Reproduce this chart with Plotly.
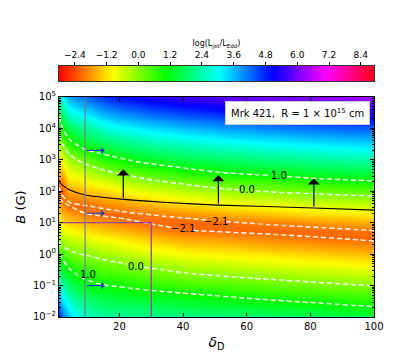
import numpy as np
import plotly.graph_objects as go

# ---------------- data ----------------
# heat map grid: Doppler factor columns, log10(B / G) rows
delta_grid = [1, 2, 4, 7, 10, 15, 20, 30, 40, 55, 70, 85, 100]
logB_grid = [-2, -1.5, -1, -0.5, 0, 0.25, 0.5, 0.75, 1.0, 1.25, 1.5, 1.75,
             2.0, 2.25, 2.5, 3.0, 3.5, 4.0, 4.5, 5.0]

# log(Ljet/LEdd), one column per delta (bottom -> top)
lj_d1 = [4.94, 3.89, 2.84, 1.79, 0.74, 0.20, -0.15, -0.50, -0.85, -1.20, -1.60, -2.05, -2.25, -1.95, -1.65, -0.95, -0.15, 0.75, 1.70, 2.60]
lj_d2 = [4.28, 3.33, 2.38, 1.43, 0.48, 0.00, -0.38, -0.76, -1.14, -1.50, -1.80, -2.15, -2.30, -2.10, -1.75, -0.90, 0.05, 1.00, 2.00, 3.00]
lj_d4 = [3.50, 2.67, 1.85, 1.02, 0.20, -0.20, -0.58, -0.96, -1.34, -1.72, -2.15, -1.95, -1.65, -1.30, -0.95, -0.25, 0.75, 1.75, 2.75, 3.75]
lj_d7 = [2.88, 2.17, 1.46, 0.75, 0.04, -0.33, -0.71, -1.09, -1.46, -1.84, -2.17, -1.95, -1.60, -1.25, -0.90, 0.00, 1.05, 2.05, 3.05, 4.05]
lj_d10 = [2.54, 1.89, 1.24, 0.59, -0.08, -0.46, -0.84, -1.22, -1.60, -2.05, -2.18, -1.85, -1.40, -1.00, -0.60, 0.30, 1.30, 2.30, 3.30, 4.30]
lj_d15 = [2.29, 1.66, 1.04, 0.41, -0.26, -0.64, -1.02, -1.40, -1.77, -2.15, -2.00, -1.70, -1.29, -0.79, -0.29, 0.71, 1.71, 2.71, 3.71, 4.71]
lj_d20 = [2.23, 1.59, 0.95, 0.31, -0.40, -0.78, -1.16, -1.53, -1.89, -2.20, -1.92, -1.53, -1.04, -0.54, -0.04, 0.96, 1.96, 2.96, 3.96, 4.96]
lj_d30 = [2.14, 1.44, 0.74, 0.04, -0.71, -1.09, -1.47, -1.83, -2.20, -2.05, -1.67, -1.19, -0.69, -0.19, 0.31, 1.31, 2.31, 3.31, 4.31, 5.31]
lj_d40 = [2.06, 1.31, 0.56, -0.20, -0.96, -1.34, -1.71, -2.08, -2.20, -1.89, -1.43, -0.94, -0.44, 0.06, 0.56, 1.56, 2.56, 3.56, 4.56, 5.56]
lj_d55 = [1.95, 1.19, 0.43, -0.33, -1.09, -1.47, -1.83, -2.18, -2.12, -1.64, -1.16, -0.66, -0.16, 0.34, 0.84, 1.84, 2.84, 3.84, 4.84, 5.84]
lj_d70 = [1.78, 1.02, 0.26, -0.50, -1.26, -1.63, -2.00, -2.20, -2.00, -1.44, -0.95, -0.45, 0.05, 0.55, 1.05, 2.05, 3.05, 4.05, 5.05, 6.05]
lj_d85 = [1.64, 0.88, 0.12, -0.64, -1.40, -1.77, -2.12, -2.15, -1.80, -1.27, -0.78, -0.28, 0.22, 0.72, 1.22, 2.22, 3.22, 4.22, 5.22, 6.22]
lj_d100 = [1.50, 0.74, -0.02, -0.78, -1.54, -1.89, -2.20, -2.08, -1.62, -1.14, -0.64, -0.14, 0.36, 0.86, 1.36, 2.36, 3.36, 4.36, 5.36, 6.36]

z_min, z_max = -3.0, 8.9
cbar_ticks = [-2.4, -1.2, 0.0, 1.2, 2.4, 3.6, 4.8, 6.0, 7.2, 8.4]

# dashed contour lines (None = gap for inline label)
up10_delta = [1.2, 1.5, 2.5, 4.6, 9.2, 15.4, 25.6, 41.6, 51.9, 67.5, None, 72.7, 81, 100]
up10_logB = [4.38, 4.22, 3.92, 3.62, 3.33, 3.17, 2.94, 2.72, 2.60, 2.50, None, 2.47, 2.41, 2.33]
up00_delta = [1.2, 1.5, 2.5, 4.6, 9.2, 15.4, 25.6, 31.4, 41.6, 51.9, 57.6, None, 62.7, 67.3, 81, 100]
up00_logB = [3.78, 3.67, 3.42, 3.14, 2.87, 2.66, 2.45, 2.34, 2.21, 2.09, 2.05, None, 2.02, 1.98, 1.92, 1.85]
up21_delta = [1.2, 1.6, 4.6, 9.2, 20.6, 33.8, 47.2, None, 53.4, 67, 100]
up21_logB = [2.12, 1.92, 1.63, 1.55, 1.36, 1.21, 1.09, None, 1.04, 0.94, 0.75]
lo21_delta = [1.2, 2.1, 9.2, 20.6, 32.0, 37.0, None, 43.2, 71.8, 100]
lo21_logB = [1.78, 1.67, 1.30, 1.14, 0.92, 0.84, None, 0.75, 0.61, 0.42]
lo00_delta = [1.2, 1.54, 5.1, 9.2, 15.4, 22.6, None, 27.7, 33.8, 40.6, 62.2, 100]
lo00_logB = [0.40, 0.29, 0.08, -0.03, -0.18, -0.32, None, -0.42, -0.50, -0.60, -0.77, -1.01]
lo10_delta = [1.2, 1.54, 4.1, 7.9, 12.8, 15.4, 25.6, 33.8, 62.2, 100]
lo10_logB = [0.00, -0.08, -0.45, -0.74, -0.92, -0.98, -1.11, -1.19, -1.42, -1.67]

label_text = ["1.0", "0.0", "\u22122.1", "\u22122.1", "0.0", "1.0"]
label_delta = [70.1, 60.1, 50.4, 40.1, 25.1, 10.2]
label_logB = [2.51, 2.06, 1.05, 0.82, -0.40, -0.66]

# solid black line and upward arrows
eq_delta = [1.0, 1.5, 4.6, 9.2, 20.6, 33.8, 51.0, 81.0, 100]
eq_logB = [2.36, 2.24, 2.03, 1.88, 1.75, 1.65, 1.56, 1.47, 1.40]
up_arrow_delta = [21.2, 51.1, 81.1]
up_arrow_from = [1.75, 1.56, 1.47]
up_arrow_to = [2.70, 2.51, 2.41]

# vertical line, horizontal blue arrows, purple box
vline_delta = 9.2
shift_to_delta = 15.4
shift_B = [2000, 20, 0.1]
box_delta = 30
box_B = 10

delta_range = [1, 100]
B_decades = [-2, -1, 0, 1, 2, 3, 4, 5]

# ---------------- figure ----------------
hsv = [
    [0.0, "rgb(255,0,0)"], [0.158730, "rgb(255,239,0)"], [0.174603, "rgb(247,255,0)"],
    [0.333333, "rgb(8,255,0)"], [0.349206, "rgb(0,255,16)"], [0.507937, "rgb(0,255,255)"],
    [0.666667, "rgb(0,16,255)"], [0.682540, "rgb(8,0,255)"], [0.841270, "rgb(247,0,255)"],
    [0.857143, "rgb(255,0,239)"], [1.0, "rgb(255,0,24)"],
]
FONT = "DejaVu Sans"

z = np.array([lj_d1, lj_d2, lj_d4, lj_d7, lj_d10, lj_d15, lj_d20, lj_d30,
              lj_d40, lj_d55, lj_d70, lj_d85, lj_d100]).T

fig = go.Figure()
fig.add_trace(go.Heatmap(x=delta_grid, y=logB_grid, z=z, zsmooth="best",
                         colorscale=hsv, zmin=z_min, zmax=z_max, showscale=False,
                         hoverinfo="skip"))

dash_style = dict(color="white", width=1.4, dash="5px,3px", shape="spline", smoothing=0.6)
for xs, ys in [(up10_delta, up10_logB), (up00_delta, up00_logB), (up21_delta, up21_logB),
               (lo21_delta, lo21_logB), (lo00_delta, lo00_logB), (lo10_delta, lo10_logB)]:
    fig.add_trace(go.Scatter(x=xs, y=ys, mode="lines", line=dash_style, showlegend=False))

fig.add_trace(go.Scatter(x=eq_delta, y=eq_logB, mode="lines", showlegend=False,
                         line=dict(color="black", width=1.1, shape="spline", smoothing=0.6)))

# purple box (top and right edges; the others sit on the axes)
lb_box = np.log10(box_B)
fig.add_trace(go.Scatter(x=[delta_range[0], box_delta, box_delta], y=[lb_box, lb_box, B_decades[0]],
                         mode="lines", line=dict(color="#9446a0", width=1.3), showlegend=False))

fig.add_shape(type="line", x0=vline_delta, x1=vline_delta, y0=0, y1=1, xref="x", yref="y domain",
              line=dict(color="#6a7f94", width=1.2))

for t, xd, yl in zip(label_text, label_delta, label_logB):
    fig.add_annotation(x=xd, y=yl, text=t, showarrow=False, xref="x", yref="y",
                       font=dict(family=FONT, size=10, color="black"))

for xd, y0, y1 in zip(up_arrow_delta, up_arrow_from, up_arrow_to):
    fig.add_annotation(x=xd, y=y1, ax=xd, ay=y0, xref="x", yref="y", axref="x", ayref="y",
                       text="", showarrow=True, arrowhead=1, arrowsize=1.7, arrowwidth=1.2,
                       arrowcolor="black")

for b in shift_B:
    lb = np.log10(b)
    fig.add_annotation(x=shift_to_delta, y=lb, ax=vline_delta, ay=lb, xref="x", yref="y",
                       axref="x", ayref="y", text="", showarrow=True, arrowhead=1,
                       arrowsize=1.0, arrowwidth=1.2, arrowcolor="#1f3cc8")

fig.add_annotation(x=0.988, y=0.982, xref="x domain", yref="y domain", xanchor="right",
                   yanchor="top", text="Mrk 421,  R = 1 \u00d7 10<sup>15</sup> cm",
                   showarrow=False, bgcolor="white", bordercolor="#cccccc", borderwidth=1,
                   borderpad=5, font=dict(family=FONT, size=10, color="black"))

# colour bar drawn as a strip on its own top axis
cbar_vals = np.linspace(z_min, z_max, 300)
fig.add_trace(go.Heatmap(x=cbar_vals, y=[0, 1], z=[cbar_vals, cbar_vals], zsmooth="best",
                         colorscale=hsv, zmin=z_min, zmax=z_max, showscale=False,
                         xaxis="x2", yaxis="y2", hoverinfo="skip"))

def sup(n):
    return "10<sup>" + (str(n) if n >= 0 else "\u2212" + str(-n)) + "</sup>"

minor_vals = [d + np.log10(k) for d in B_decades[:-1] for k in range(2, 10)]

axis_common = dict(showline=True, linecolor="black", linewidth=1, mirror="ticks",
                   ticks="inside", tickcolor="black", showgrid=False, zeroline=False,
                   tickfont=dict(family=FONT, size=10, color="black"))

# the page body adds an 8 px offset, so margins are shifted to keep the plot in place
fig.update_layout(
    width=415, height=356,
    margin=dict(l=44, r=49, t=22, b=47),
    paper_bgcolor="white", plot_bgcolor="white",
    showlegend=False,
    font=dict(family=FONT, color="black"),
    xaxis=dict(axis_common, range=delta_range, tickvals=[20, 40, 60, 80, 100], ticklen=4,
               domain=[0, 1], anchor="y",
               title=dict(text="<i>\u03b4</i><sub>D</sub>", standoff=6,
                          font=dict(family=FONT, size=14))),
    yaxis=dict(axis_common, range=[B_decades[0], B_decades[-1]], tickvals=B_decades,
               ticktext=[sup(n) for n in B_decades], ticklen=4, domain=[0, 0.7666],
               anchor="x",
               minor=dict(tickmode="array", tickvals=minor_vals, ticks="inside",
                          ticklen=2, tickcolor="black"),
               title=dict(text="<i>B</i> (G)", standoff=4, font=dict(family=FONT, size=13))),
    xaxis2=dict(range=[z_min, z_max], domain=[0, 1], anchor="y2", side="top",
                tickvals=cbar_ticks,
                ticktext=[("\u2212" if v < 0 else "") + f"{abs(v):.1f}" for v in cbar_ticks],
                ticks="outside", ticklen=3, tickcolor="black", showgrid=False, zeroline=False,
                showline=True, linecolor="#333333", linewidth=1, mirror=True,
                tickfont=dict(family=FONT, size=9, color="black"),
                title=dict(text="log(L<sub>jet</sub>/L<sub>Edd</sub>)", standoff=2,
                           font=dict(family=FONT, size=8))),
    yaxis2=dict(range=[0, 1], domain=[0.8223, 0.8746], anchor="x2", showticklabels=False,
                ticks="", showgrid=False, zeroline=False, showline=True,
                linecolor="#333333", linewidth=1, mirror=True),
)

fig.write_html("out.html")
